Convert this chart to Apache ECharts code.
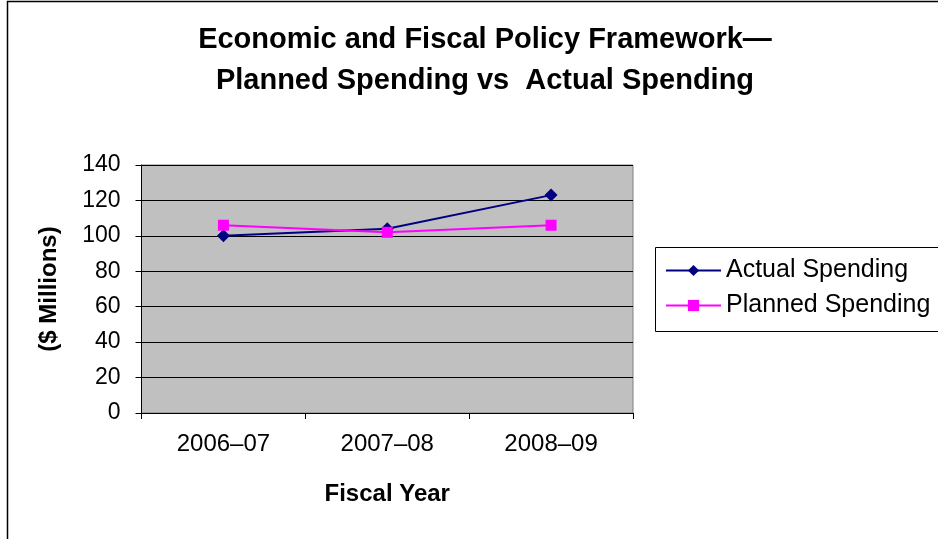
<!DOCTYPE html>
<html>
<head>
<meta charset="utf-8">
<script src="https://cdn.jsdelivr.net/npm/echarts@6/dist/echarts.min.js"></script>
<style>
  html, body { margin: 0; padding: 0; background: #fff; }
  #chart { width: 938px; height: 539px; }
</style>
</head>
<body>
<div id="chart"></div>
<script>
// Fiscal years on the category axis
const fiscalYears = ['2006–07', '2007–08', '2008–09'];
// Spending in $ millions
const actualSpending = [100, 104, 123];
const plannedSpending = [106, 102, 106];
// Value axis range
const yMin = 0;
const yMax = 140;
const yStep = 20;

const FONT = '"Liberation Sans", Arial, sans-serif';

const chart = echarts.init(document.getElementById('chart'), null, { renderer: 'canvas' });

chart.setOption({
  animation: false,
  backgroundColor: '#fff',
  textStyle: { fontFamily: FONT },
  graphic: [
    {
      // outer chart frame: left and top edges only (the rest is off-canvas)
      type: 'polyline',
      shape: { points: [[7.5, 539], [7.5, 1.5], [938, 1.5]] },
      style: { fill: 'none', stroke: '#000', lineWidth: 1.5 },
      z: -1
    },
    {
      // legend frame, open past the right edge
      type: 'polyline',
      shape: { points: [[938, 247.5], [655.5, 247.5], [655.5, 331.5], [938, 331.5]] },
      style: { fill: 'none', stroke: '#000', lineWidth: 1 },
      z: -1
    }
  ],
  title: {
    text: 'Economic and Fiscal Policy Framework—\nPlanned Spending vs  Actual Spending',
    left: 480,
    textAlign: 'center',
    top: 14,
    textStyle: {
      fontFamily: FONT,
      fontWeight: 'bold',
      fontSize: 29,
      lineHeight: 41,
      color: '#000'
    }
  },
  legend: {
    orient: 'vertical',
    left: 655,
    top: 247,
    padding: [11, 0, 13, 10],
    itemGap: 10,
    itemWidth: 55,
    itemHeight: 14,
    textStyle: { fontFamily: FONT, fontSize: 25, color: '#000' },
    data: ['Actual Spending', 'Planned Spending']
  },
  grid: {
    left: 141.5,
    right: 305,
    top: 165,
    bottom: 126,
    show: true,
    backgroundColor: '#C0C0C0',
    borderColor: '#808080',
    borderWidth: 1
  },
  xAxis: {
    type: 'category',
    data: fiscalYears,
    boundaryGap: true,
    name: 'Fiscal Year',
    nameLocation: 'middle',
    nameGap: 69,
    nameTextStyle: { fontFamily: FONT, fontWeight: 'bold', fontSize: 24, color: '#000' },
    axisLine: { lineStyle: { color: '#000', width: 1 } },
    axisTick: { show: true, length: 6, lineStyle: { color: '#000' } },
    axisLabel: { fontFamily: FONT, fontSize: 24, color: '#000', margin: 19 },
    splitLine: { show: false }
  },
  yAxis: {
    type: 'value',
    min: yMin,
    max: yMax,
    interval: yStep,
    name: '($ Millions)',
    nameLocation: 'middle',
    nameGap: 80,
    nameRotate: 90,
    nameTextStyle: { fontFamily: FONT, fontWeight: 'bold', fontSize: 24, color: '#000' },
    axisLine: { show: true, lineStyle: { color: '#000', width: 1 } },
    axisTick: { show: true, length: 6, lineStyle: { color: '#000' } },
    axisLabel: { fontFamily: FONT, fontSize: 23, color: '#000', margin: 21 },
    splitLine: { show: true, lineStyle: { color: '#000', width: 1 } }
  },
  series: [
    {
      name: 'Actual Spending',
      type: 'line',
      data: actualSpending,
      symbol: 'diamond',
      symbolSize: 13,
      itemStyle: { color: '#000080' },
      lineStyle: { color: '#000080', width: 2 },
      z: 3
    },
    {
      name: 'Planned Spending',
      type: 'line',
      data: plannedSpending,
      symbol: 'rect',
      symbolSize: 11,
      itemStyle: { color: '#FF00FF' },
      lineStyle: { color: '#FF00FF', width: 2 },
      z: 4
    }
  ]
});
</script>
</body>
</html>
